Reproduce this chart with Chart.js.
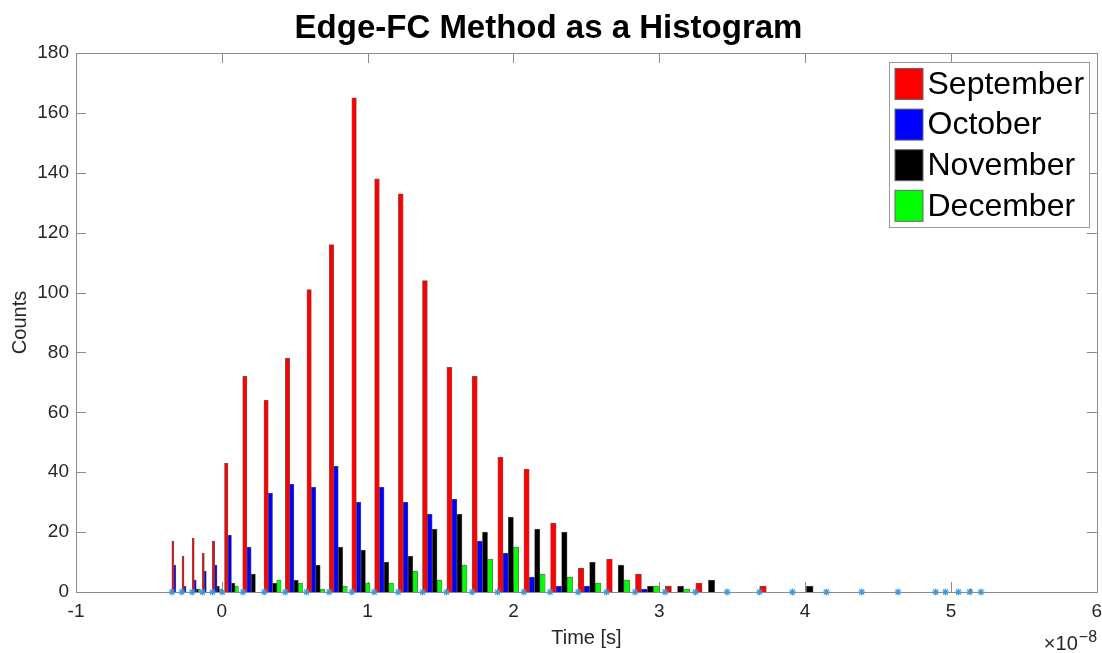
<!DOCTYPE html>
<html>
<head>
<meta charset="utf-8">
<title>Edge-FC Method as a Histogram</title>
<script src="https://cdn.jsdelivr.net/npm/chart.js@4.4.1/dist/chart.umd.min.js"></script>
<style>
  html, body { margin: 0; padding: 0; background: #fff; }
  #wrap { width: 1102px; height: 653px; position: relative; }
</style>
</head>
<body>
<div id="wrap"><canvas id="histChart"></canvas></div>
<script>
// histogram of edge-FC timing, one bar group per bin (units of 1e-8 s)
const binCenters = [
  -0.315, -0.245, -0.175, -0.106, -0.038,
  0.056, 0.201, 0.348, 0.494, 0.643, 0.799, 0.953, 1.111, 1.277, 1.442,
  1.611, 1.787, 1.963, 2.144, 2.328, 2.522, 2.716, 2.917, 3.124, 3.335,
  3.554, 3.778, 4.007, 4.243, 4.488, 4.741, 4.922, 4.998, 5.082, 5.160, 5.237
];
// bin edges, marked with asterisks along the baseline
const binEdges = [
  -0.342, -0.274, -0.203, -0.133, -0.064,
  0.003, 0.145, 0.291, 0.435, 0.581, 0.736, 0.892, 1.045, 1.209, 1.377,
  1.541, 1.717, 1.891, 2.071, 2.251, 2.443, 2.638, 2.834, 3.040, 3.248,
  3.465, 3.687, 3.913, 4.146, 4.388, 4.637, 4.895, 4.962, 5.051, 5.129, 5.206
];

const months = ["September", "October", "November", "December"];
const monthColors = ["#ff0000", "#0000ff", "#000000", "#00ff00"];

const sepCounts = [17, 12, 18, 13, 17, 43, 72, 64, 78, 101, 116, 165, 138, 133, 104, 75, 72, 45, 41, 23, 8, 11, 6, 2, 3, 0, 2, 0, 0, 0, 0, 0, 0, 0, 1, 0];
const octCounts = [9, 2, 4, 7, 9, 19, 15, 33, 36, 35, 42, 30, 35, 30, 26, 31, 17, 13, 5, 2, 2, 0, 1, 0, 0, 0, 0, 0, 0, 0, 0, 0, 0, 0, 0, 0];
const novCounts = [0, 0, 1, 0, 2, 3, 6, 3, 4, 9, 15, 14, 10, 12, 21, 26, 20, 25, 21, 20, 10, 9, 2, 2, 4, 0, 0, 2, 0, 0, 0, 0, 0, 0, 0, 0];
const decCounts = [0, 0, 1, 0, 1, 2, 0, 4, 3, 1, 2, 3, 3, 7, 4, 9, 11, 15, 6, 5, 3, 4, 2, 1, 0, 0, 0, 0, 0, 0, 0, 0, 0, 0, 0, 0];
const monthCounts = [sepCounts, octCounts, novCounts, decCounts];

const xTicks = [-1, 0, 1, 2, 3, 4, 5, 6];
const yTicks = [0, 20, 40, 60, 80, 100, 120, 140, 160, 180];

const FONT = "'Liberation Sans', Arial, Helvetica, sans-serif";
const axisColor = "#8c8c8c";
const labelColor = "#262626";

// inward ticks on all four sides, box, legend and the axis exponent
const matlabAxes = {
  id: "matlabAxes",
  beforeDatasetsDraw(chart) {
    const { ctx, chartArea: a, scales } = chart;
    const tickLen = 10;
    ctx.save();
    ctx.strokeStyle = axisColor;
    ctx.lineWidth = 1;
    ctx.beginPath();
    scales.x.ticks.forEach((t) => {
      if (t.value <= scales.x.min || t.value >= scales.x.max) return;
      const px = Math.round(scales.x.getPixelForValue(t.value)) + 0.5;
      ctx.moveTo(px, a.bottom);
      ctx.lineTo(px, a.bottom - tickLen);
      ctx.moveTo(px, a.top);
      ctx.lineTo(px, a.top + tickLen);
    });
    scales.y.ticks.forEach((t) => {
      if (t.value <= scales.y.min || t.value >= scales.y.max) return;
      const py = Math.round(scales.y.getPixelForValue(t.value)) + 0.5;
      ctx.moveTo(a.left, py);
      ctx.lineTo(a.left + tickLen, py);
      ctx.moveTo(a.right, py);
      ctx.lineTo(a.right - tickLen, py);
    });
    ctx.stroke();
    ctx.strokeRect(Math.round(a.left) + 0.5, Math.round(a.top) + 0.5,
      Math.round(a.right - a.left), Math.round(a.bottom - a.top));
    ctx.restore();
  },
  afterDraw(chart) {
    const { ctx, chartArea: a } = chart;
    ctx.save();

    // legend box, top right inside the axes
    const bars = chart.data.datasets.filter((d) => d.type !== "scatter");
    const boxW = 200, rowH = 40.6, boxH = 165;
    const bx = Math.round(a.right - 8 - boxW) + 0.5;
    const by = Math.round(a.top + 9) + 0.5;
    ctx.fillStyle = "#fff";
    ctx.fillRect(bx, by, boxW, boxH);
    ctx.strokeStyle = "#9a9a9a";
    ctx.lineWidth = 1;
    ctx.strokeRect(bx, by, boxW, boxH);
    ctx.font = "32px " + FONT;
    ctx.textBaseline = "middle";
    ctx.textAlign = "left";
    bars.forEach((d, i) => {
      const cy = by + 21.5 + i * rowH;
      ctx.fillStyle = d.backgroundColor;
      ctx.fillRect(bx + 5.5, cy - 15.5, 28, 31);
      ctx.strokeStyle = "#666";
      ctx.strokeRect(bx + 5.5, cy - 15.5, 28, 31);
      ctx.fillStyle = "#000";
      ctx.fillText(d.label, bx + 38, cy + 1);
    });

    // x10^-8 exponent under the right end of the x axis
    ctx.fillStyle = labelColor;
    ctx.textBaseline = "alphabetic";
    ctx.textAlign = "right";
    ctx.font = "20px " + FONT;
    ctx.fillText("\u00d710", a.right - 19, 650);
    ctx.textAlign = "left";
    ctx.font = "16px " + FONT;
    ctx.fillText("\u22128", a.right - 18, 642);
    ctx.restore();
  }
};

const barSets = months.map((m, i) => ({
  type: "bar",
  label: m,
  data: binCenters.map((x, j) => ({ x: x, y: monthCounts[i][j] })),
  backgroundColor: monthColors[i],
  borderColor: "rgba(60, 60, 60, 0.8)",
  borderWidth: 0.7,
  barThickness: "flex",
  categoryPercentage: 0.8,
  barPercentage: 1.0,
  order: 1,
}));

const edgeMarks = {
  type: "scatter",
  label: "edges",
  data: binEdges.map((x) => ({ x: x, y: 0 })),
  pointStyle: "star",
  pointRadius: 3.5,
  borderColor: "#3d9ae0",
  backgroundColor: "#3d9ae0",
  borderWidth: 1.2,
  showLine: false,
  clip: false,
  order: 0,
};

new Chart("histChart", {
  type: "bar",
  data: { datasets: [edgeMarks, ...barSets] },
  plugins: [matlabAxes],
  options: {
    responsive: true,
    maintainAspectRatio: false,
    animation: false,
    layout: { padding: { top: 0, right: 5, bottom: 0, left: 0 } },
    plugins: {
      legend: { display: false },
      tooltip: { enabled: false },
      title: {
        display: true,
        text: "Edge-FC Method as a Histogram",
        color: "#000",
        font: { family: FONT, size: 33, weight: "bold" },
        padding: { top: 9, bottom: 4.4 },
      },
    },
    scales: {
      x: {
        type: "linear",
        offset: false,
        min: -1,
        max: 6,
        afterBuildTicks: (scale) => {
          scale.ticks = xTicks.map((v) => ({ value: v }));
        },
        afterFit: (scale) => {
          scale.height = 61;
          scale.paddingLeft = 0;
          scale.paddingRight = 0;
        },
        grid: { display: false, drawTicks: false, offset: false },
        border: { display: false },
        ticks: {
          color: labelColor,
          padding: 8,
          maxRotation: 0,
          font: { family: FONT, size: 19 },
        },
        title: {
          display: true,
          text: "Time [s]",
          color: labelColor,
          font: { family: FONT, size: 20 },
          padding: { top: 0, bottom: 3 },
        },
      },
      y: {
        min: 0,
        max: 180,
        afterBuildTicks: (scale) => {
          scale.ticks = yTicks.map((v) => ({ value: v }));
        },
        afterFit: (scale) => {
          scale.width = 76;
          scale.paddingTop = 0;
          scale.paddingBottom = 0;
        },
        grid: { display: false, drawTicks: false },
        border: { display: false },
        ticks: {
          color: labelColor,
          padding: 7,
          font: { family: FONT, size: 19 },
        },
        title: {
          display: true,
          text: "Counts",
          color: labelColor,
          font: { family: FONT, size: 20 },
          padding: { top: 8, bottom: 0 },
        },
      },
    },
  },
});
</script>
</body>
</html>
